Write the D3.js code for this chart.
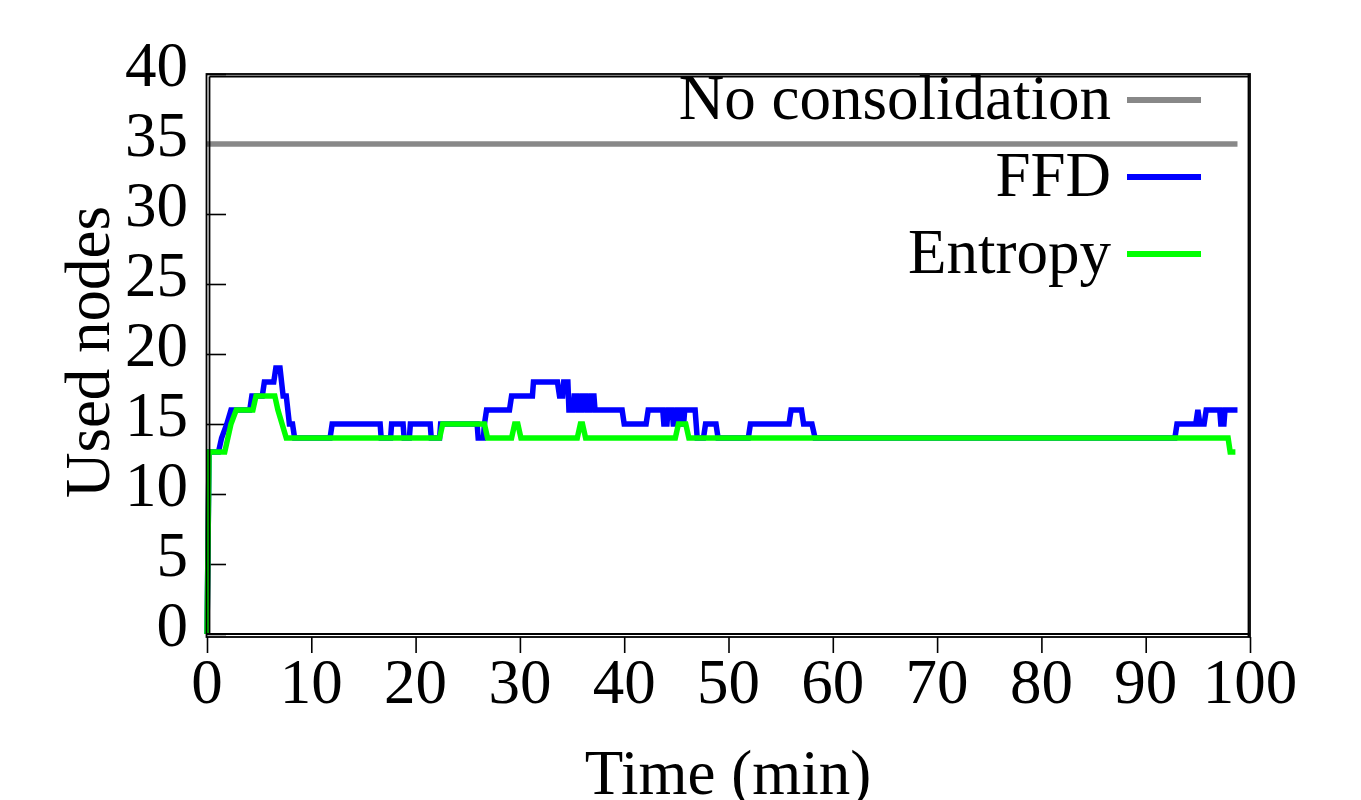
<!DOCTYPE html>
<html><head><meta charset="utf-8">
<script src="https://cdn.jsdelivr.net/npm/d3@7"></script>
<style>body{margin:0;background:#fff}svg{display:block}text{font-family:"Liberation Serif","Times New Roman",serif;fill:#000}</style>
</head><body><svg id="c" width="1361" height="800"></svg>
<script>
const xTicks=[0,10,20,30,40,50,60,70,80,90,100];
const yTicks=[0,5,10,15,20,25,30,35,40];
const seriesNames=["No consolidation","FFD","Entropy"];
const seriesColors=["#888888","#0000ff","#00ff00"];
const noConsolidation=[[0,35],[98.8,35]];
const ffd=[[0,0],[0.2,13],[1.1,13],[1.4,14],[1.9,15],[2.3,16],[4.1,16],[4.3,17],[5.3,17],[5.5,18],[6.4,18],[6.6,19],[7.0,19],[7.3,17],[7.6,17],[7.9,15],[8.2,15],[8.4,14],[11.8,14],[12.0,15],[16.6,15],[16.7,14],[17.6,14],[17.7,15],[18.8,15],[18.9,14],[19.4,14],[19.5,15],[21.4,15],[21.5,14],[22.3,14],[22.4,15],[25.9,15],[26.0,14],[26.5,14],[26.6,15],[26.8,16],[29.0,16],[29.2,17],[31.2,17],[31.3,18],[33.6,18],[33.8,17],[34.1,17],[34.2,18],[34.6,18],[34.7,16],[35.1,16],[35.2,17],[35.5,17],[35.6,16],[35.9,16],[36.0,17],[36.3,17],[36.4,16],[36.7,16],[36.8,17],[37.1,17],[37.2,16],[39.8,16],[40.0,15],[42.1,15],[42.3,16],[43.7,16],[43.8,15],[44.1,15],[44.2,16],[44.6,16],[44.7,15],[45.0,15],[45.1,16],[45.4,16],[45.5,15],[45.7,15],[45.8,16],[46.8,16],[47.0,14],[47.6,14],[47.8,15],[48.8,15],[49.0,14],[51.9,14],[52.1,15],[55.8,15],[56.0,16],[57.0,16],[57.2,15],[58.0,15],[58.3,14],[92.8,14],[93.0,15],[94.8,15],[95.0,16],[95.2,15],[95.6,15],[95.8,16],[97.1,16],[97.2,15],[97.5,15],[97.6,16],[98.8,16]];
const entropy=[[0,0],[0.2,13],[1.7,13],[2.0,14],[2.3,15],[2.8,16],[4.4,16],[4.7,17],[6.5,17],[6.8,16],[7.2,15],[7.6,14],[22.3,14],[22.6,15],[26.6,15],[26.9,14],[29.2,14],[29.5,15],[29.8,15],[30.1,14],[35.5,14],[35.8,15],[36.0,15],[36.3,14],[44.9,14],[45.2,15],[45.9,15],[46.2,14],[97.9,14],[98.1,13],[98.6,13]];
const allSeries=[noConsolidation,ffd,entropy];

const svg=d3.select("#c");
const L=207,R=1250,T=74,B=634;
const x=d3.scaleLinear().domain([0,100]).range([L,R]);
const y=d3.scaleLinear().domain([0,40]).range([B,T]);
const FS=63;

// y axis ticks (inward) and labels
const ya=svg.append("g").attr("transform",`translate(${L},0)`)
 .call(d3.axisRight(y).tickValues(yTicks).tickSize(19).tickFormat(""));
ya.select(".domain").remove();
ya.selectAll("line").attr("stroke","#000").attr("stroke-width",1.6);
svg.append("g").selectAll("text").data(yTicks).join("text")
 .attr("x",188).attr("y",d=>y(d)+12).attr("text-anchor","end").attr("font-size",FS).text(d=>d);

// x axis ticks (outward) and labels
const xa=svg.append("g").attr("transform",`translate(0,${B+3})`)
 .call(d3.axisBottom(x).tickValues(xTicks).tickSize(16).tickFormat(""));
xa.select(".domain").remove();
xa.selectAll("line").attr("stroke","#000").attr("stroke-width",1.6);
svg.append("g").selectAll("text").data(xTicks).join("text")
 .attr("x",d=>x(d)).attr("y",703).attr("text-anchor","middle").attr("font-size",FS).text(d=>d);

// series
const line=d3.line().x(d=>x(d[0])).y(d=>y(d[1]));
allSeries.forEach((s,i)=>{
 svg.append("path").datum(s).attr("d",line).attr("fill","none")
  .attr("stroke",seriesColors[i]).attr("stroke-width",5.5).attr("stroke-linejoin","miter");
});

// frame (double border)
const fr=svg.append("g").attr("stroke","#000").attr("stroke-width",1.8).attr("fill","none");
fr.append("rect").attr("x",L-0.5).attr("y",T).attr("width",R-L+0.5).attr("height",B+3-T);
fr.append("line").attr("x1",L+2.5).attr("x2",L+2.5).attr("y1",T+2.5).attr("y2",B);
fr.append("line").attr("x1",L+2.5).attr("x2",R).attr("y1",T+2.5).attr("y2",T+2.5);
fr.append("line").attr("x1",L).attr("x2",R).attr("y1",B).attr("y2",B);
fr.append("line").attr("x1",R-1.5).attr("x2",R-1.5).attr("y1",T).attr("y2",B+3);

// legend
seriesNames.forEach((n,i)=>{
 const ly=100+77*i;
 svg.append("text").attr("x",1111).attr("y",ly+19).attr("text-anchor","end").attr("font-size",FS).text(n);
 svg.append("line").attr("x1",1127).attr("x2",1201).attr("y1",ly).attr("y2",ly)
  .attr("stroke",seriesColors[i]).attr("stroke-width",6);
});

// axis titles
svg.append("text").attr("x",728).attr("y",794).attr("text-anchor","middle").attr("font-size",FS).text("Time (min)");
svg.append("text").attr("transform","translate(109,352) rotate(-90)").attr("text-anchor","middle").attr("font-size",FS).text("Used nodes");
</script></body></html>
